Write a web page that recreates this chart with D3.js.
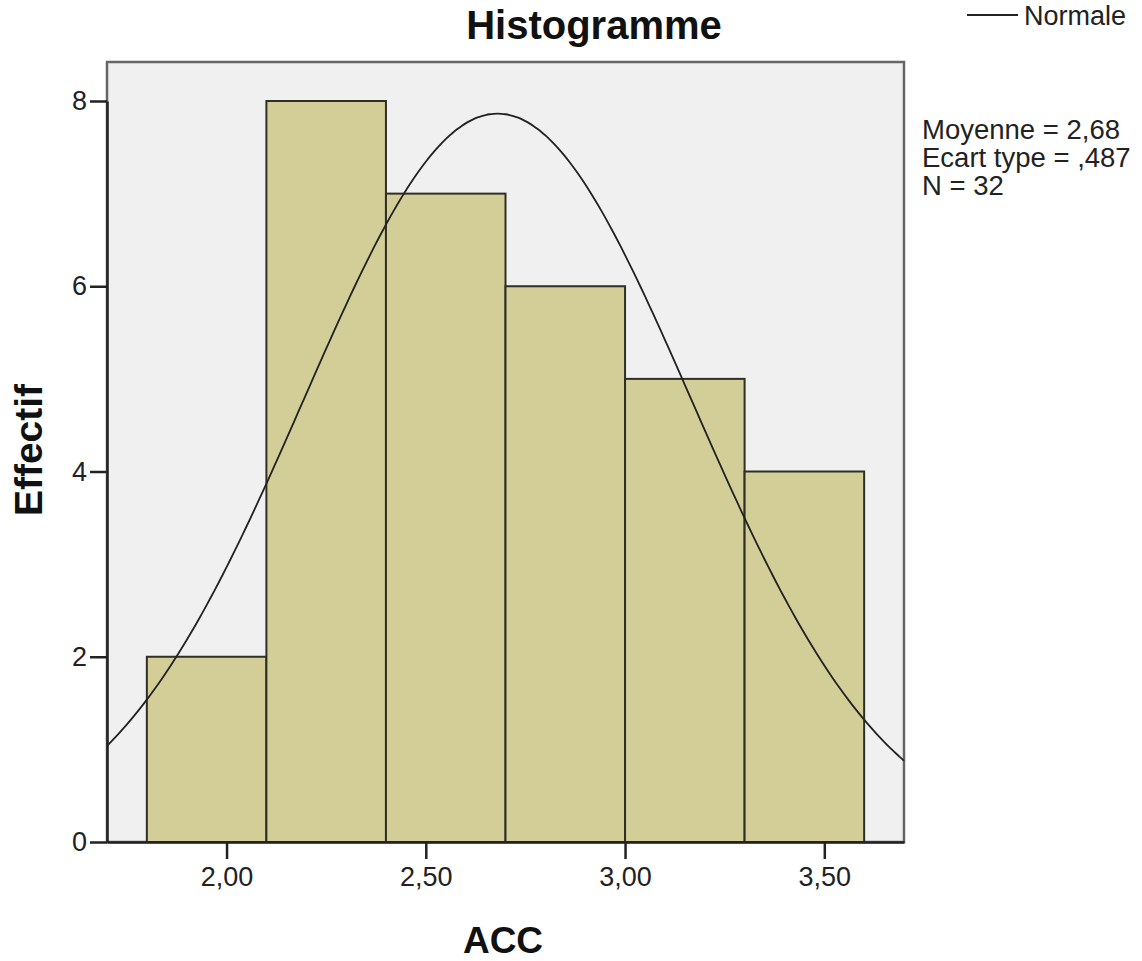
<!DOCTYPE html>
<html><head><meta charset="utf-8">
<script src="https://cdn.jsdelivr.net/npm/d3@7"></script>
<style>body{margin:0;background:#fff}svg text{font-family:"Liberation Sans",Arial,sans-serif}</style>
</head><body><svg id="c" width="1142" height="961"></svg>
<script>
const binStarts = [1.8, 2.1, 2.4, 2.7, 3.0, 3.3];
const binEnds   = [2.1, 2.4, 2.7, 3.0, 3.3, 3.6];
const counts    = [2, 8, 7, 6, 5, 4];
const xTicks = [2.0, 2.5, 3.0, 3.5];
const xTickLabels = ["2,00", "2,50", "3,00", "3,50"];
const yTicks = [0, 2, 4, 6, 8];
const statsLines = ["Moyenne = 2,68", "Ecart type = ,487", "N = 32"];
const mean = 2.68, sd = 0.487, nObs = 32, binWidth = 0.3;

const svg = d3.select("#c");
const L = 107, R = 904, T = 62, B = 842;
const x = d3.scaleLinear().domain([1.7, 3.7]).range([L, R]);
const y = d3.scaleLinear().domain([0, 8]).range([B, 101]);

svg.append("rect").attr("x", L).attr("y", T).attr("width", R - L).attr("height", B - T)
  .attr("fill", "#f0f0f0").attr("stroke", "#666").attr("stroke-width", 2.5);

const bins = counts.map((c, i) => ({x0: binStarts[i], x1: binEnds[i], c}));
svg.selectAll("rect.bar").data(bins).join("rect").attr("class", "bar")
  .attr("x", d => x(d.x0)).attr("width", d => x(d.x1) - x(d.x0))
  .attr("y", d => y(d.c)).attr("height", d => y(0) - y(d.c))
  .attr("fill", "#d3ce98").attr("stroke", "#2f2f25").attr("stroke-width", 2);

// normal curve from stated mean, sd, N
const pts = d3.range(1.7, 3.7001, 0.01).map(v => [v, nObs * binWidth * Math.exp(-0.5 * ((v - mean) / sd) ** 2) / (sd * Math.sqrt(2 * Math.PI))]);
svg.append("path").datum(pts)
  .attr("d", d3.line().x(d => x(d[0])).y(d => y(d[1])).curve(d3.curveBasis))
  .attr("fill", "none").attr("stroke", "#222").attr("stroke-width", 1.8);

// axes
const xa = svg.append("g").attr("transform", `translate(0,${B})`)
  .call(d3.axisBottom(x).tickValues(xTicks).tickFormat((d, i) => xTickLabels[i]).tickSize(17).tickSizeOuter(0).tickPadding(8));
const ya = svg.append("g").attr("transform", `translate(${L},0)`)
  .call(d3.axisLeft(y).tickValues(yTicks).tickSize(17).tickSizeOuter(0).tickPadding(3));
[xa, ya].forEach(g => {
  g.select(".domain").attr("stroke", "#222").attr("stroke-width", 2.5);
  g.selectAll(".tick line").attr("stroke", "#222").attr("stroke-width", 2.5);
  g.selectAll(".tick text").attr("fill", "#222").style("font-size", "27px");
});

svg.append("text").attr("x", 594).attr("y", 39).attr("text-anchor", "middle")
  .style("font-size", "40px").style("font-weight", "bold").attr("fill", "#111").text("Histogramme");
svg.append("text").attr("x", 503).attr("y", 953).attr("text-anchor", "middle")
  .style("font-size", "37px").style("font-weight", "bold").attr("fill", "#111").text("ACC");
svg.append("text").attr("transform", "translate(42,450) rotate(-90)").attr("text-anchor", "middle")
  .style("font-size", "39px").style("font-weight", "bold").attr("fill", "#111").text("Effectif");

svg.append("line").attr("x1", 967).attr("x2", 1018).attr("y1", 15).attr("y2", 15)
  .attr("stroke", "#222").attr("stroke-width", 1.8);
svg.append("text").attr("x", 1024).attr("y", 25).style("font-size", "27px").attr("fill", "#222").text("Normale");
svg.selectAll("text.stat").data(statsLines).join("text").attr("class", "stat")
  .attr("x", 922).attr("y", (d, i) => 139 + i * 28).style("font-size", "27.5px").attr("fill", "#222").text(d => d);
</script></body></html>
